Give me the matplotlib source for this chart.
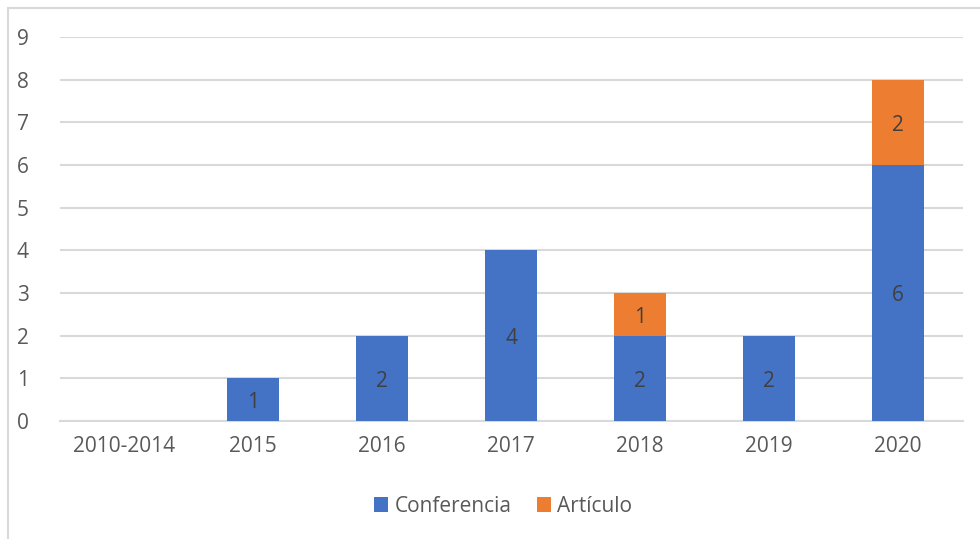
import matplotlib.pyplot as plt
from matplotlib.patches import Rectangle

plt.rcParams['font.family'] = ['Open Sans', 'DejaVu Sans']

years = ["2010-2014", "2015", "2016", "2017", "2018", "2019", "2020"]
conferencia = [0, 1, 2, 4, 2, 2, 6]
articulo = [0, 0, 0, 0, 1, 0, 2]

BLUE = "#4472C4"
ORANGE = "#ED7D31"
GRID = "#D9D9D9"
TXT = "#595959"

W, H = 980, 539
fig = plt.figure(figsize=(W / 100, H / 100), dpi=100)

# chart frame (clipped on the right and bottom like the reference)
fig.patches.append(Rectangle((8 / W, -0.1), 1.2, 1 - 8 / H + 0.1, transform=fig.transFigure,
                             fill=False, edgecolor=GRID, linewidth=1.5))

ax = fig.add_axes([59.5 / W, 1 - 421 / H, (962.5 - 59.5) / W, (421 - 37) / H])
x = range(len(years))
b1 = ax.bar(x, conferencia, width=0.40, color=BLUE, label="Conferencia", zorder=3)
b2 = ax.bar(x, articulo, width=0.40, bottom=conferencia, color=ORANGE, label="Artículo", zorder=3)

for bars in (b1, b2):
    for rect in bars:
        h = rect.get_height()
        if h > 0:
            ax.text(rect.get_x() + rect.get_width() / 2, rect.get_y() + h / 2 - 0.07, f"{h:g}",
                    ha="center", va="center", fontsize=15, color="#404040", zorder=4)

ax.set_xlim(-0.5, len(years) - 0.5)
ax.set_ylim(0, 9)
ax.set_yticks(range(0, 10))
ax.set_xticks(list(x))
ax.set_xticklabels(years)
ax.grid(axis="y", color=GRID, linewidth=1.5, zorder=0)
for s in ["top", "right", "left"]:
    ax.spines[s].set_visible(False)
ax.spines["bottom"].set_color(GRID)
ax.spines["bottom"].set_linewidth(1.5)
ax.tick_params(length=0, labelsize=15, colors=TXT)
ax.tick_params(axis="y", pad=22)
ax.tick_params(axis="x", pad=11)

fig.legend(handles=[b1, b2], loc="center", bbox_to_anchor=(503 / W, 1 - 506 / H), ncol=2,
           frameon=False, fontsize=15, labelcolor=TXT, handlelength=0.7, handleheight=0.7,
           handletextpad=0.3, columnspacing=1.2)

fig.savefig("out.png", dpi=100)
